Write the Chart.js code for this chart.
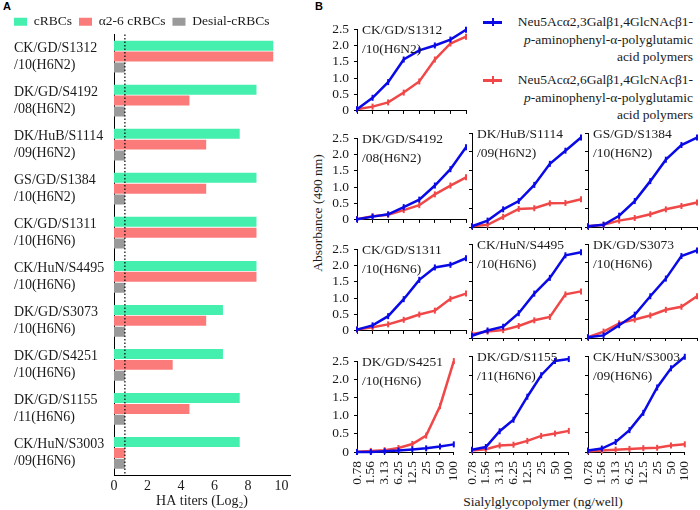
<!DOCTYPE html>
<html>
<head>
<meta charset="utf-8">
<script src="https://cdn.jsdelivr.net/npm/chart.js@4.4.1/dist/chart.umd.min.js"></script>
<style>
  body { margin: 0; background: #fff; width: 700px; height: 510px; position: relative; overflow: hidden;
         font-family: "Liberation Serif", "Times New Roman", serif; color: #1a1a1a; }
  canvas { position: absolute; }
  .tag { position: absolute; font: bold 11px "Liberation Sans", Arial, sans-serif; color: #000; }
  .txt { position: absolute; font-size: 13.5px; white-space: nowrap; }
  .lgB { position: absolute; left: 500px; width: 193px; text-align: right; font-size: 13.5px; line-height: 17.5px; white-space: nowrap; }
</style>
</head>
<body>
<div class="tag" style="left:3px;top:0px">A</div>
<div class="tag" style="left:315px;top:0px">B</div>

<canvas id="barA" width="300" height="510" style="left:0;top:0"></canvas>

<!-- legend of panel B -->
<div style="position:absolute;left:483px;top:20.5px;width:19px;height:3px;background:#0A0AE6"></div>
<div style="position:absolute;left:491.5px;top:18px;width:2px;height:8px;background:#0A0AE6"></div>
<div class="lgB" style="top:13px">Neu5Acα2,3Galβ1,4GlcNAcβ1-<br><i>p</i>-aminophenyl-α-polyglutamic<br>acid polymers</div>
<div style="position:absolute;left:483px;top:78.5px;width:19px;height:3px;background:#F04848"></div>
<div style="position:absolute;left:491.5px;top:76px;width:2px;height:8px;background:#F04848"></div>
<div class="lgB" style="top:71px">Neu5Acα2,6Galβ1,4GlcNAcβ1-<br><i>p</i>-aminophenyl-α-polyglutamic<br>acid polymers</div>

<div class="txt" style="left:238px;top:204px;width:160px;height:18px;line-height:18px;text-align:center;transform:rotate(-90deg)">Absorbance (490 nm)</div>
<div class="txt" style="left:443px;top:494px;width:200px;text-align:center">Sialylglycopolymer (ng/well)</div>

<script>
// ---- panel A: HA titers ----
const strains = [
  ['CK/GD/S1312', '/10(H6N2)'],
  ['DK/GD/S4192', '/08(H6N2)'],
  ['DK/HuB/S1114', '/09(H6N2)'],
  ['GS/GD/S1384', '/10(H6N2)'],
  ['CK/GD/S1311', '/10(H6N6)'],
  ['CK/HuN/S4495', '/10(H6N6)'],
  ['DK/GD/S3073', '/10(H6N6)'],
  ['DK/GD/S4251', '/10(H6N6)'],
  ['DK/GD/S1155', '/11(H6N6)'],
  ['CK/HuN/S3003', '/09(H6N6)'],
];
const cRBC      = [9.5, 8.5, 7.5, 8.5, 8.5, 8.5, 6.5, 6.5, 7.5, 7.5];
const a26RBC    = [9.5, 4.5, 5.5, 5.5, 8.5, 8.5, 5.5, 3.5, 4.5, 0.65];
const desialRBC = [0.65, 0.65, 0.65, 0.65, 0.65, 0.65, 0.65, 0.65, 0.65, 0.65];
const cutoff = 0.65;
const titerTicks = [0, 2, 4, 6, 8, 10];

// ---- panel B: absorbance vs sialylglycopolymer amount ----
const doses = ['0.78', '1.56', '3.13', '6.25', '12.5', '25', '50', '100'];
const s1312_a23 = [0.05, 0.4, 0.88, 1.57, 1.85, 2.0, 2.18, 2.48];
const s1312_a26 = [0.05, 0.13, 0.26, 0.56, 0.9, 1.57, 2.06, 2.27];
const s4192_a23 = [0.02, 0.1, 0.17, 0.39, 0.62, 1.05, 1.55, 2.22];
const s4192_a26 = [0.02, 0.11, 0.16, 0.3, 0.45, 0.78, 1.05, 1.3];
const s1114_a23 = [0.02, 0.17, 0.47, 0.69, 1.12, 1.68, 2.03, 2.38];
const s1114_a26 = [0.02, 0.06, 0.27, 0.48, 0.5, 0.63, 0.64, 0.74];
const s1384_a23 = [0.02, 0.06, 0.3, 0.69, 1.22, 1.79, 2.18, 2.38];
const s1384_a26 = [0.02, 0.06, 0.17, 0.24, 0.34, 0.47, 0.56, 0.65];
const s1311_a23 = [0.04, 0.17, 0.45, 0.97, 1.56, 1.94, 2.02, 2.22];
const s1311_a26 = [0.04, 0.11, 0.2, 0.34, 0.5, 0.62, 0.98, 1.14];
const s4495_a23 = [0.06, 0.2, 0.3, 0.66, 1.18, 1.6, 2.2, 2.28];
const s4495_a26 = [0.11, 0.17, 0.21, 0.32, 0.47, 0.56, 1.16, 1.24];
const s3073_a23 = [0.02, 0.07, 0.34, 0.62, 1.11, 1.58, 2.18, 2.33];
const s3073_a26 = [0.02, 0.17, 0.39, 0.49, 0.6, 0.75, 0.83, 1.11];
const s4251_a23 = [0, 0, 0.02, 0.04, 0.07, 0.1, 0.15, 0.21];
const s4251_a26 = [0.01, 0.03, 0.05, 0.11, 0.22, 0.45, 1.26, 2.5];
const s1155_a23 = [0.06, 0.13, 0.54, 0.84, 1.44, 2.0, 2.37, 2.42];
const s1155_a26 = [0.04, 0.07, 0.17, 0.19, 0.29, 0.42, 0.48, 0.55];
const s3003_a23 = [0.04, 0.09, 0.26, 0.57, 1.02, 1.68, 2.18, 2.48];
const s3003_a26 = [0.02, 0.04, 0.06, 0.08, 0.1, 0.11, 0.17, 0.2];

Chart.defaults.font.family = '"Liberation Serif", "Times New Roman", serif';
Chart.defaults.font.size = 13.5;
Chart.defaults.color = '#1a1a1a';
Chart.defaults.devicePixelRatio = 1;

const BLUE = '#0A0AE6';
const RED = '#F04848';

// dotted detection-limit line
const cutoffLine = {
  id: 'cutoffLine',
  afterDatasetsDraw(chart) {
    const ctx = chart.ctx;
    const x = chart.scales.x.getPixelForValue(cutoff);
    ctx.save();
    ctx.strokeStyle = '#000';
    ctx.lineWidth = 1.2;
    ctx.setLineDash([1.5, 2]);
    ctx.beginPath();
    ctx.moveTo(x, chart.chartArea.top);
    ctx.lineTo(x, chart.chartArea.bottom);
    ctx.stroke();
    ctx.restore();
  }
};

// legend should line up with the strain names, and sit a bit lower
const legendShift = {
  id: 'legendShift',
  afterLayout(chart) {
    const lg = chart.legend;
    lg.left -= 7;
    lg.right -= 7;
    lg.top += 4;
    lg.bottom += 4;
  }
};

new Chart(document.getElementById('barA'), {
  type: 'bar',
  data: {
    labels: strains,
    datasets: [
      { label: 'cRBCs', data: cRBC, backgroundColor: '#45EFAE' },
      { label: 'α2-6 cRBCs', data: a26RBC, backgroundColor: '#FB7B7B' },
      { label: 'Desial-cRBCs', data: desialRBC, backgroundColor: '#9A9A9A' },
    ]
  },
  options: {
    indexAxis: 'y',
    responsive: false,
    animation: false,
    datasets: { bar: { categoryPercentage: 0.74, barPercentage: 0.92 } },
    layout: { padding: { left: 14, right: 10, top: 4, bottom: 0 } },
    plugins: {
      legend: { align: 'start', labels: { boxWidth: 13, boxHeight: 8, padding: 7, font: { size: 13.5 } } },
      tooltip: { enabled: false }
    },
    scales: {
      x: {
        min: 0, max: 10.5,
        grid: { display: false, tickLength: 0 },
        border: { color: '#000' },
        afterBuildTicks: s => { s.ticks = titerTicks.map(v => ({ value: v })); },
        ticks: { padding: 3, font: { size: 14 } },
        title: { display: true, text: 'HA titers (Log₂)', padding: { top: 2, bottom: 0 }, font: { size: 14 } },
        afterFit: s => { s.height = 35; }
      },
      y: {
        grid: { display: false, tickLength: 0 },
        border: { color: '#000' },
        ticks: { crossAlign: 'far', autoSkip: false, font: { size: 14 } },
        afterFit: s => { s.width = 100; }
      }
    }
  },
  plugins: [cutoffLine, legendShift]
});

// strain name inside each small plot
const strainName = {
  id: 'strainName',
  afterDraw(chart, args, opts) {
    const ctx = chart.ctx;
    const { left, top } = chart.chartArea;
    ctx.save();
    ctx.font = '13.5px "Liberation Serif", "Times New Roman", serif';
    ctx.fillStyle = '#1a1a1a';
    ctx.textBaseline = 'middle';
    opts.lines.forEach((t, i) => ctx.fillText(t, left + 5, top + 1 + i * 19));
    ctx.restore();
  }
};

const cols = [357, 472, 588];
const rows = [24, 133, 244, 356];
const W = 109, H = 96;

const panels = [
  { name: strains[0], a23: s1312_a23, a26: s1312_a26, col: 0, row: 0 },
  { name: strains[1], a23: s4192_a23, a26: s4192_a26, col: 0, row: 1 },
  { name: strains[2], a23: s1114_a23, a26: s1114_a26, col: 1, row: 1 },
  { name: strains[3], a23: s1384_a23, a26: s1384_a26, col: 2, row: 1 },
  { name: strains[4], a23: s1311_a23, a26: s1311_a26, col: 0, row: 2 },
  { name: strains[5], a23: s4495_a23, a26: s4495_a26, col: 1, row: 2 },
  { name: strains[6], a23: s3073_a23, a26: s3073_a26, col: 2, row: 2 },
  { name: strains[7], a23: s4251_a23, a26: s4251_a26, col: 0, row: 3 },
  { name: strains[8], a23: s1155_a23, a26: s1155_a26, col: 1, row: 3 },
  { name: strains[9], a23: s3003_a23, a26: s3003_a26, col: 2, row: 3 },
];

function series(data, color) {
  return {
    data, borderColor: color, backgroundColor: color,
    borderWidth: 2.5, tension: 0, clip: false,
    pointStyle: 'line', rotation: 90, pointRadius: 3, pointBorderWidth: 2
  };
}

panels.forEach(p => {
  const first = p.col === 0, last = p.row === 3;
  const yw = first ? 34 : 4;
  const xh = last ? 58 : 4;
  const padL = 10, padR = 10, padT = 8, padB = 0;
  const cv = document.createElement('canvas');
  cv.width = W + yw + padL + padR;
  cv.height = H + xh + padT + padB;
  cv.style.left = (cols[p.col] - yw - padL) + 'px';
  cv.style.top = (rows[p.row] - padT) + 'px';
  document.body.appendChild(cv);

  new Chart(cv, {
    type: 'line',
    data: { labels: doses, datasets: [series(p.a23, BLUE), series(p.a26, RED)] },
    options: {
      responsive: false,
      animation: false,
      layout: { padding: { left: padL, right: padR, top: padT, bottom: padB } },
      plugins: { legend: { display: false }, tooltip: { enabled: false }, strainName: { lines: p.name } },
      scales: {
        x: {
          grid: { drawOnChartArea: false, tickLength: 3, color: '#000' },
          border: { color: '#000' },
          ticks: { display: last, minRotation: 90, maxRotation: 90, autoSkip: false, padding: 6 },
          afterFit: s => { s.height = xh; }
        },
        y: {
          min: 0, max: 2.5,
          grid: { drawOnChartArea: false, tickLength: 3, color: '#000' },
          border: { color: '#000' },
          ticks: { display: first, stepSize: 0.5, autoSkip: false, padding: 5, callback: v => v === 0 ? '0' : v.toFixed(1) },
          afterFit: s => { s.width = yw; }
        }
      }
    },
    plugins: [strainName]
  });
});
</script>
</body>
</html>
